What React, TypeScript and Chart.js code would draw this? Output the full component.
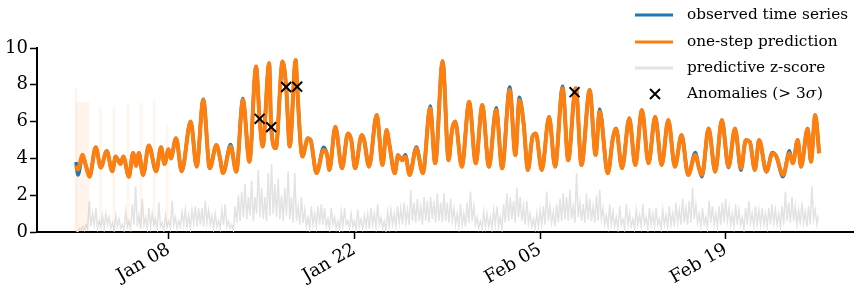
import React, { useEffect, useRef } from "react";
import { Chart, registerables } from "chart.js";
Chart.register(...registerables);

// x axis: days since Jan 01
const tickDays = [7, 21, 35, 49];
const tickLabels = ["Jan 08", "Jan 22", "Feb 05", "Feb 19"];
const yTicks = [0, 2, 4, 6, 8, 10];

const legendLabels = ["observed time series", "one-step prediction", "predictive z-score", "Anomalies (> 3", "σ", ")"];

const seriesDays = [0.0, 0.15, 0.5, 0.75, 1.02, 1.49, 1.87, 2.32, 2.74, 2.99, 3.36, 3.57, 3.99, 4.31, 4.54, 4.74, 5.06, 5.49, 6.05, 6.41, 6.68, 6.98, 7.15, 7.55, 7.97, 8.65, 9.1, 9.6, 10.09, 10.59, 10.84, 11.09, 11.66, 12.09, 12.59, 13.08, 13.58, 13.85, 14.08, 14.57, 14.72, 15.07, 15.58, 15.85, 16.12, 16.57, 16.68, 17.07, 17.49, 17.69, 18.14, 18.68, 18.94, 19.11, 19.56, 20.06, 20.51, 20.76, 21.05, 21.55, 21.73, 22.1, 22.68, 23.12, 23.42, 23.67, 24.04, 24.29, 24.59, 24.84, 25.16, 25.67, 26.16, 26.71, 27.09, 27.65, 28.1, 28.36, 28.6, 29.1, 29.65, 30.15, 30.64, 31.14, 31.69, 32.14, 32.71, 33.14, 33.44, 33.76, 34.08, 34.43, 34.68, 35.13, 35.68, 36.13, 36.7, 37.12, 37.6, 37.7, 38.12, 38.74, 39.19, 39.49, 40.11, 40.49, 40.73, 41.18, 41.73, 42.18, 42.68, 43.18, 43.68, 44.17, 44.67, 45.17, 45.67, 46.17, 46.71, 46.96, 47.21, 47.71, 48.21, 48.71, 49.21, 49.7, 50.15, 50.52, 50.82, 51.2, 51.52, 52.07, 52.52, 52.82, 53.32, 53.81, 54.06, 54.43, 54.68, 55.18, 55.43, 55.75, 56.05];

const prediction = [3.6, 3.4, 4.2, 3.6, 3.0, 4.6, 3.5, 4.4, 3.3, 4.1, 3.7, 4.1, 3.0, 4.3, 3.6, 4.3, 3.1, 4.7, 3.3, 4.6, 3.7, 4.5, 4.0, 5.1, 3.3, 6.0, 3.55, 7.17, 3.46, 4.73, 4.1, 3.2, 4.64, 3.28, 7.17, 3.82, 8.99, 6.15, 4.64, 9.17, 5.7, 4.55, 9.26, 7.88, 4.64, 9.35, 7.9, 4.1, 5.09, 5.0, 3.2, 4.46, 4.18, 3.37, 5.72, 3.46, 5.36, 5.0, 3.46, 5.27, 5.0, 3.55, 6.36, 3.64, 5.54, 4.6, 3.19, 4.18, 3.9, 4.1, 3.1, 4.55, 3.19, 6.72, 3.73, 9.26, 3.9, 5.54, 6.0, 3.55, 7.08, 3.73, 6.9, 3.55, 6.63, 3.46, 7.72, 4.18, 7.17, 5.9, 3.37, 5.18, 5.36, 3.37, 6.27, 3.55, 7.81, 3.9, 7.6, 7.81, 3.64, 7.72, 4.18, 6.54, 3.19, 5.09, 5.63, 3.46, 6.18, 3.64, 6.63, 3.73, 6.27, 3.64, 6.09, 3.55, 5.27, 3.1, 4.18, 3.55, 3.1, 5.63, 3.28, 6.09, 3.55, 5.63, 3.46, 5.0, 4.9, 3.37, 5.0, 3.28, 4.28, 4.1, 3.1, 4.28, 3.73, 5.0, 3.55, 5.63, 3.82, 6.36, 4.28];

const observed = [3.8, 3.1, 4.1, 3.6, 3.0, 4.6, 3.5, 4.4, 3.3, 4.1, 3.7, 4.1, 3.0, 4.3, 3.6, 4.3, 3.1, 4.7, 3.3, 4.6, 3.7, 4.5, 4.0, 5.1, 3.3, 6.0, 3.55, 7.22, 3.46, 4.73, 4.1, 3.2, 4.75, 3.28, 7.25, 3.82, 8.99, 6.15, 4.64, 9.17, 5.7, 4.55, 9.26, 7.88, 4.64, 9.35, 7.9, 4.1, 5.09, 5.0, 3.2, 4.6, 4.18, 3.37, 5.72, 3.46, 5.36, 5.0, 3.46, 5.27, 5.0, 3.55, 6.36, 3.64, 5.54, 4.6, 3.19, 4.18, 3.9, 4.2, 3.1, 4.62, 3.19, 6.85, 3.73, 9.3, 3.9, 5.54, 6.0, 3.55, 7.08, 3.73, 6.9, 3.55, 6.75, 3.46, 7.88, 4.18, 7.32, 5.9, 3.37, 5.18, 5.36, 3.37, 6.27, 3.55, 7.92, 3.9, 7.6, 7.81, 3.64, 7.72, 4.18, 6.68, 3.19, 5.09, 5.63, 3.46, 6.18, 3.64, 6.63, 3.73, 6.27, 3.64, 6.09, 3.55, 5.27, 3.1, 4.32, 3.55, 3.0, 5.63, 3.28, 6.09, 3.5, 5.63, 3.35, 5.0, 4.9, 3.37, 5.0, 3.28, 4.32, 4.1, 3.0, 4.42, 3.73, 5.0, 3.55, 5.63, 3.82, 6.36, 4.28];

// predictive z-score, sampled every 0.125 day from Jan 01
const zStepDays = 0.125;
const zScore = [
  0.1, 0.0, 0.2, 0.1, 0.3, 0.1, 0.4, 0.2, 1.7, 0.3, 1.0, 0.4, 1.3, 0.2, 0.6, 0.3, 0.9, 0.2, 1.0, 0.4,
  0.8, 0.2, 0.5, 0.1, 0.9, 0.3, 0.7, 0.2, 0.4, 0.1, 1.1, 0.3, 0.6, 0.2, 1.5, 0.4, 2.5, 0.3, 0.9, 0.2,
  1.8, 0.4, 0.8, 0.2, 1.3, 0.3, 1.0, 0.4, 0.7, 0.2, 1.6, 0.3, 0.5, 0.1, 0.9, 0.3, 0.6, 0.2, 1.7, 0.4,
  0.8, 0.2, 0.6, 0.3, 1.1, 0.4, 1.2, 0.3, 0.9, 0.2, 1.2, 0.5, 1.4, 0.3, 1.3, 0.4,
  1.3, 0.3, 1.7, 0.5, 1.2, 0.4, 0.9, 0.2, 1.0, 0.3, 0.6, 0.2, 1.2, 0.4, 1.5, 0.3, 0.6, 0.2, 0.4, 0.1,
  1.4, 0.5, 2.0, 0.6, 2.2, 0.8, 2.6, 0.7, 1.9, 0.9, 2.8, 0.6, 1.9, 1.0, 3.4, 0.8, 2.4, 0.7, 1.9, 0.6,
  3.2, 0.9, 3.7, 1.0, 2.6, 0.8, 2.9, 0.7, 2.0, 0.6, 2.4, 0.9, 3.3, 0.7, 1.9, 0.5, 3.2, 0.6, 1.4, 0.4,
  1.9, 0.5, 1.2, 0.3, 0.8, 0.2, 1.4, 0.4, 1.0, 0.3, 1.4, 0.4,
  1.5, 0.4, 1.3, 0.3, 0.7, 0.2, 1.3, 0.4, 0.8, 0.2, 0.6, 0.1, 1.1, 0.3, 1.3, 0.4, 0.6, 0.2, 1.0, 0.3,
  0.6, 0.1, 1.2, 0.3, 0.7, 0.2, 0.9, 0.3, 1.0, 0.2, 1.3, 0.4, 1.0, 0.3, 1.5, 0.4, 0.8, 0.2, 0.6, 0.1,
  1.1, 0.3, 1.2, 0.4, 1.0, 0.3, 1.4, 0.5, 1.3, 0.4, 1.6, 0.5, 1.2, 0.4, 2.3, 0.6, 1.6, 0.5, 1.8, 0.6,
  1.4, 0.4, 1.9, 0.6, 1.7, 0.5, 1.9, 0.7, 1.7, 0.5, 2.1, 0.6, 1.6, 0.5,
  2.1, 0.6, 1.6, 0.5, 1.8, 0.6, 1.3, 0.4, 1.0, 0.3, 1.5, 0.4, 1.0, 0.3, 1.6, 0.5, 2.2, 0.6, 1.4, 0.4,
  0.8, 0.2, 0.6, 0.2, 1.1, 0.3, 1.0, 0.3, 0.8, 0.2, 1.2, 0.4, 1.4, 0.3, 0.8, 0.2, 1.5, 0.5, 2.1, 0.6,
  1.9, 0.7, 1.7, 0.5, 2.4, 0.8, 1.9, 0.6, 1.4, 0.4, 1.7, 0.5, 1.0, 0.3, 0.7, 0.2, 1.0, 0.3, 1.2, 0.4,
  1.4, 0.4, 2.2, 0.6, 1.4, 0.5, 1.1, 0.3, 1.5, 0.5, 1.8, 0.6, 2.1, 0.7, 1.9, 0.6,
  2.3, 0.7, 1.4, 0.5, 3.2, 0.8, 1.6, 0.6, 1.5, 0.5, 2.1, 0.7, 1.8, 0.6, 1.4, 0.5, 2.0, 0.6, 2.3, 0.7,
  1.3, 0.4, 0.9, 0.3, 1.5, 0.4, 1.1, 0.3, 0.8, 0.2, 1.4, 0.4, 0.7, 0.2, 1.5, 0.4, 1.0, 0.3, 0.7, 0.2,
  1.2, 0.4, 0.9, 0.3, 1.5, 0.4, 0.8, 0.2, 1.3, 0.4, 1.0, 0.3, 1.3, 0.4, 0.7, 0.2, 1.2, 0.4, 0.9, 0.3,
  1.4, 0.4, 1.0, 0.3, 1.6, 0.5, 1.2, 0.4, 1.8, 0.5, 1.3, 0.4, 1.7, 0.5,
  2.4, 0.7, 1.5, 0.5, 1.0, 0.3, 1.3, 0.4, 0.8, 0.2, 1.7, 0.5, 1.4, 0.4, 1.0, 0.3, 1.4, 0.4, 1.6, 0.5,
  1.8, 0.6, 1.3, 0.4, 1.0, 0.3, 1.5, 0.4, 1.2, 0.4, 0.8, 0.2, 1.3, 0.4, 1.7, 0.5, 1.0, 0.3, 1.4, 0.4,
  1.2, 0.4, 1.3, 0.4, 1.0, 0.3, 1.3, 0.4, 1.5, 0.5, 1.2, 0.4, 1.0, 0.3, 1.4, 0.4, 2.2, 0.6, 1.6, 0.5,
  1.9, 0.6, 1.4, 0.4, 1.2, 0.4, 1.6, 0.5, 1.1, 0.3, 1.4, 0.4, 2.5, 0.7, 1.2, 0.4, 0.9
];

const anomalyDays = [13.85, 14.72, 15.85, 16.68, 37.6];
const anomalyValues = [6.15, 5.7, 7.88, 7.9, 7.6];

// early predictive uncertainty spikes (light orange)
const bandDays = [0.0, 1.85, 2.87, 3.92, 4.91, 5.9, 6.87];
const bandHigh = [7.8, 6.7, 6.8, 6.9, 7.0, 7.1, 5.8];
const bandWideDays = [0.5];
const bandWideHigh = [7.05];

const FONT = '"DejaVu Serif", "Liberation Serif", serif';
const BLUE = "#1f77b4";
const ORANGE = "#ff7f0e";
const GRAY = "#e3e3e3";

export default function App() {
  const ref = useRef<HTMLCanvasElement>(null);
  useEffect(() => {
    document.body.style.margin = "0";
    const canvas = ref.current!;
    const legendPlugin = {
      id: "customLegend",
      afterDraw(chart: any) {
        const c = chart.ctx as CanvasRenderingContext2D;
        c.save();
        const rows = [15, 42, 68, 94];
        const colors = [BLUE, ORANGE, GRAY];
        c.lineWidth = 3;
        for (let i = 0; i < 3; i++) {
          c.strokeStyle = colors[i];
          c.beginPath();
          c.moveTo(635, rows[i]);
          c.lineTo(673, rows[i]);
          c.stroke();
        }
        // anomaly marker
        c.strokeStyle = "#000";
        c.lineWidth = 2;
        c.beginPath();
        c.moveTo(650, rows[3] - 5);
        c.lineTo(660, rows[3] + 5);
        c.moveTo(650, rows[3] + 5);
        c.lineTo(660, rows[3] - 5);
        c.stroke();
        c.fillStyle = "#000";
        c.textBaseline = "middle";
        c.textAlign = "left";
        const f = 15.3;
        c.font = `${f}px ${FONT}`;
        for (let i = 0; i < 3; i++) c.fillText(legendLabels[i], 687, rows[i]);
        let x = 687;
        c.fillText(legendLabels[3], x, rows[3]);
        x += c.measureText(legendLabels[3]).width;
        c.font = `italic ${f}px ${FONT}`;
        c.fillText(legendLabels[4], x, rows[3]);
        x += c.measureText(legendLabels[4]).width + 1;
        c.font = `${f}px ${FONT}`;
        c.fillText(legendLabels[5], x, rows[3]);
        c.restore();
      },
    };

    const pts = (xs: number[], ys: number[]) => xs.map((x, i) => ({ x, y: ys[i] }));
    const tickFont = { family: FONT, size: 18 };
    const gridOpts = { display: true, offset: false, drawOnChartArea: false, drawTicks: true, tickLength: 7, tickWidth: 1.5, tickColor: "#000" };
    const chart = new Chart(canvas, {
      type: "line",
      data: {
        datasets: [
          {
            label: "Anomalies",
            data: pts(anomalyDays, anomalyValues),
            showLine: false,
            pointStyle: "crossRot",
            pointRadius: 7,
            pointBorderWidth: 2,
            pointBorderColor: "#000",
            pointBackgroundColor: "#000",
            borderColor: "#000",
            order: 0,
          } as any,
          {
            label: "one-step prediction",
            data: pts(seriesDays, prediction),
            borderColor: ORANGE,
            borderWidth: 4,
            pointRadius: 0,
            cubicInterpolationMode: "monotone",
            order: 1,
          },
          {
            label: "observed time series",
            data: pts(seriesDays, observed),
            borderColor: BLUE,
            borderWidth: 3.5,
            pointRadius: 0,
            cubicInterpolationMode: "monotone",
            order: 2,
          },
          {
            type: "bar",
            label: "band",
            data: bandDays.map((d, i) => ({ x: d, y: [0, bandHigh[i]] })),
            backgroundColor: "rgba(255,127,14,0.08)",
            barThickness: 2,
            grouped: false,
            order: 3,
          } as any,
          {
            type: "bar",
            label: "bandWide",
            data: bandWideDays.map((d, i) => ({ x: d, y: [0, bandWideHigh[i]] })),
            backgroundColor: "rgba(255,127,14,0.08)",
            barThickness: 13,
            grouped: false,
            order: 4,
          } as any,
          {
            label: "predictive z-score",
            data: zScore.map((v, i) => ({ x: i * zStepDays, y: v })),
            borderColor: GRAY,
            borderWidth: 1.5,
            pointRadius: 0,
            tension: 0,
            order: 5,
          },
        ],
      },
      options: {
        responsive: false,
        animation: false,
        devicePixelRatio: 1,
        layout: { padding: { top: 48, right: 1, left: 0, bottom: 0 } },
        plugins: { legend: { display: false }, tooltip: { enabled: false } },
        scales: {
          x: {
            type: "linear",
            min: -2.94,
            max: 58.6,
            offset: false,
            afterBuildTicks: (s: any) => {
              s.ticks = tickDays.map((v) => ({ value: v }));
            },
            afterFit: (s: any) => {
              s.height = 62;
            },
            ticks: {
              autoSkip: false,
              minRotation: 30,
              maxRotation: 30,
              color: "#000",
              font: tickFont,
              padding: 0,
              callback: (_v: any, i: number) => tickLabels[i],
            },
            grid: gridOpts,
            border: { display: true, color: "#000", width: 2 },
          },
          y: {
            type: "linear",
            min: 0,
            max: 10,
            afterBuildTicks: (s: any) => {
              s.ticks = yTicks.map((v) => ({ value: v }));
            },
            afterFit: (s: any) => {
              s.width = 37;
            },
            ticks: { color: "#000", font: tickFont, padding: 2 },
            grid: gridOpts,
            border: { display: true, color: "#000", width: 2 },
          },
        },
      } as any,
      plugins: [legendPlugin],
    });
    return () => chart.destroy();
  }, []);
  return <canvas ref={ref} width={862} height={294} style={{ display: "block", width: 862, height: 294 }} />;
}
